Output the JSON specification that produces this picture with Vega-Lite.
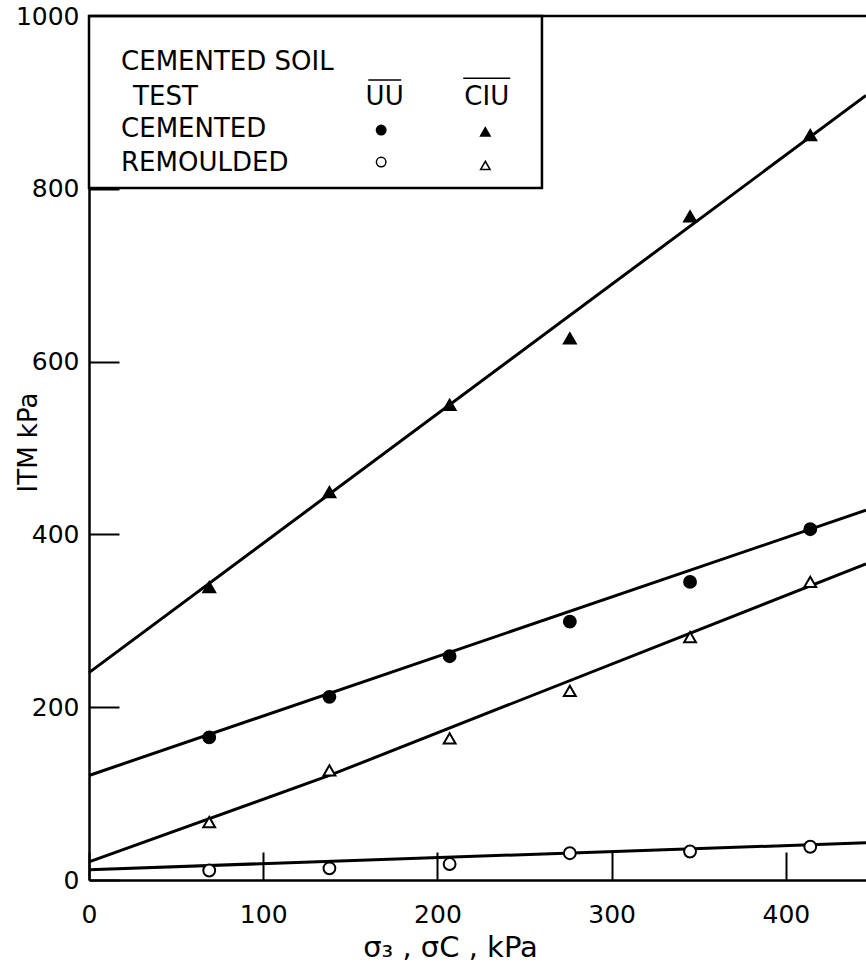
{
  "$schema": "https://vega.github.io/schema/vega-lite/v6.json",
  "width": 777,
  "height": 864,
  "autosize": "none",
  "padding": {"left": 89, "top": 16, "right": 0, "bottom": 93},
  "background": "white",
  "config": {
    "view": {"stroke": null},
    "font": "DejaVu Sans",
    "axis": {
      "grid": false,
      "domainColor": "black",
      "domainWidth": 2.5,
      "tickColor": "black",
      "tickWidth": 2,
      "labelColor": "black",
      "titleColor": "black",
      "labelFont": "DejaVu Sans",
      "titleFont": "DejaVu Sans",
      "labelFontSize": 25,
      "titleFontSize": 24,
      "titleFontWeight": "normal",
      "labelFlush": false,
      "labelOverlap": false,
      "format": "d"
    }
  },
  "datasets": {
    "fits": [
      {"series": "CIU cemented", "x": 0, "y": 240},
      {"series": "CIU cemented", "x": 446, "y": 908},
      {"series": "UU cemented", "x": 0, "y": 121},
      {"series": "UU cemented", "x": 446, "y": 428},
      {"series": "CIU remoulded", "x": 0, "y": 21},
      {"series": "CIU remoulded", "x": 138, "y": 121},
      {"series": "CIU remoulded", "x": 446, "y": 366},
      {"series": "UU remoulded", "x": 0, "y": 12},
      {"series": "UU remoulded", "x": 446, "y": 43}
    ],
    "points": [
      {"test": "UU", "state": "cemented", "x": 69, "y": 165},
      {"test": "UU", "state": "cemented", "x": 138, "y": 212},
      {"test": "UU", "state": "cemented", "x": 207, "y": 259},
      {"test": "UU", "state": "cemented", "x": 276, "y": 299},
      {"test": "UU", "state": "cemented", "x": 345, "y": 345},
      {"test": "UU", "state": "cemented", "x": 414, "y": 406},
      {"test": "CIU", "state": "cemented", "x": 69, "y": 339},
      {"test": "CIU", "state": "cemented", "x": 138, "y": 449},
      {"test": "CIU", "state": "cemented", "x": 207, "y": 550},
      {"test": "CIU", "state": "cemented", "x": 276, "y": 627},
      {"test": "CIU", "state": "cemented", "x": 345, "y": 768},
      {"test": "CIU", "state": "cemented", "x": 414, "y": 862},
      {"test": "CIU", "state": "remoulded", "x": 69, "y": 67},
      {"test": "CIU", "state": "remoulded", "x": 138, "y": 127},
      {"test": "CIU", "state": "remoulded", "x": 207, "y": 164},
      {"test": "CIU", "state": "remoulded", "x": 276, "y": 219},
      {"test": "CIU", "state": "remoulded", "x": 345, "y": 281},
      {"test": "CIU", "state": "remoulded", "x": 414, "y": 345},
      {"test": "UU", "state": "remoulded", "x": 69, "y": 11},
      {"test": "UU", "state": "remoulded", "x": 138, "y": 13.5},
      {"test": "UU", "state": "remoulded", "x": 207, "y": 18.5},
      {"test": "UU", "state": "remoulded", "x": 276, "y": 31},
      {"test": "UU", "state": "remoulded", "x": 345, "y": 33},
      {"test": "UU", "state": "remoulded", "x": 414, "y": 38.5}
    ],
    "legendBox": [{"x": 0, "x2": 260, "y": 801, "y2": 1000}],
    "border": [{"x": 0, "x2": 446, "y": 1000}],
    "overlines": [
      {"x": 160.3, "x2": 179.2, "y": 926},
      {"x": 214.8, "x2": 241.8, "y": 928}
    ],
    "legendLeft": [
      {"x": 18.4, "y": 947, "label": "CEMENTED SOIL"},
      {"x": 25.3, "y": 906.6, "label": "TEST"},
      {"x": 18.4, "y": 869, "label": "CEMENTED"},
      {"x": 18.4, "y": 830, "label": "REMOULDED"}
    ],
    "legendCenter": [
      {"x": 169.7, "y": 906.6, "label": "UU"},
      {"x": 228.3, "y": 906.6, "label": "CIU"}
    ],
    "legendMarks": [
      {"test": "UU", "state": "cemented", "x": 167.7, "y": 868},
      {"test": "CIU", "state": "cemented", "x": 227.5, "y": 866},
      {"test": "UU", "state": "remoulded", "x": 167.7, "y": 831},
      {"test": "CIU", "state": "remoulded", "x": 227.5, "y": 827}
    ]
  },
  "encoding": {
    "x": {
      "field": "x",
      "type": "quantitative",
      "scale": {"domain": [0, 446], "nice": false, "zero": false},
      "axis": {
        "title": "σ₃ , σC , kPa",
        "values": [0, 100, 200, 300, 400],
        "format": "d",
        "labelFontSize": 25,
        "titleFontSize": 29,
        "tickSize": -28,
        "labelPadding": 50,
        "titleX": 361,
        "titleY": 67,
        "titleBaseline": "middle",
        "titleAlign": "center",
        "titleAnchor": null
      }
    },
    "y": {
      "field": "y",
      "type": "quantitative",
      "scale": {"domain": [0, 1000], "nice": false, "zero": false},
      "axis": {
        "title": "ITM kPa",
        "values": [0, 200, 400, 600, 800, 1000],
        "format": "d",
        "labelFontSize": 25,
        "titleFontSize": 26,
        "tickSize": -30,
        "labelPadding": 40,
        "titleX": -61,
        "titleY": 426,
        "titleAngle": -90,
        "titleBaseline": "middle",
        "titleAlign": "center",
        "titleAnchor": null
      }
    }
  },
  "layer": [
    {
      "data": {"name": "legendBox"},
      "mark": {"type": "rect", "fill": "white", "stroke": "black", "strokeWidth": 2.5},
      "encoding": {"x2": {"field": "x2"}, "y2": {"field": "y2"}}
    },
    {
      "data": {"name": "border"},
      "mark": {"type": "rule", "color": "black", "strokeWidth": 2.5},
      "encoding": {"x2": {"field": "x2"}}
    },
    {
      "data": {"name": "fits"},
      "mark": {"type": "line", "color": "black", "strokeWidth": 3},
      "encoding": {"detail": {"field": "series"}}
    },
    {
      "data": {"name": "points"},
      "mark": {"type": "point", "filled": true, "stroke": "black", "strokeWidth": 2, "size": 140, "opacity": 1},
      "encoding": {
        "shape": {"field": "test", "type": "nominal", "scale": {"domain": ["UU", "CIU"], "range": ["circle", "triangle-up"]}, "legend": null},
        "fill": {"field": "state", "type": "nominal", "scale": {"domain": ["cemented", "remoulded"], "range": ["black", "white"]}, "legend": null}
      }
    },
    {
      "data": {"name": "overlines"},
      "mark": {"type": "rule", "color": "black", "strokeWidth": 1.5},
      "encoding": {"x2": {"field": "x2"}}
    },
    {
      "data": {"name": "legendLeft"},
      "mark": {"type": "text", "align": "left", "baseline": "middle", "fontSize": 26, "font": "DejaVu Sans", "color": "black"},
      "encoding": {"text": {"field": "label"}}
    },
    {
      "data": {"name": "legendCenter"},
      "mark": {"type": "text", "align": "center", "baseline": "middle", "fontSize": 26, "font": "DejaVu Sans", "color": "black"},
      "encoding": {"text": {"field": "label"}}
    },
    {
      "data": {"name": "legendMarks"},
      "mark": {"type": "point", "filled": true, "stroke": "black", "strokeWidth": 1.5, "size": 90, "opacity": 1},
      "encoding": {
        "shape": {"field": "test", "type": "nominal", "scale": {"domain": ["UU", "CIU"], "range": ["circle", "triangle-up"]}, "legend": null},
        "fill": {"field": "state", "type": "nominal", "scale": {"domain": ["cemented", "remoulded"], "range": ["black", "white"]}, "legend": null}
      }
    }
  ]
}
